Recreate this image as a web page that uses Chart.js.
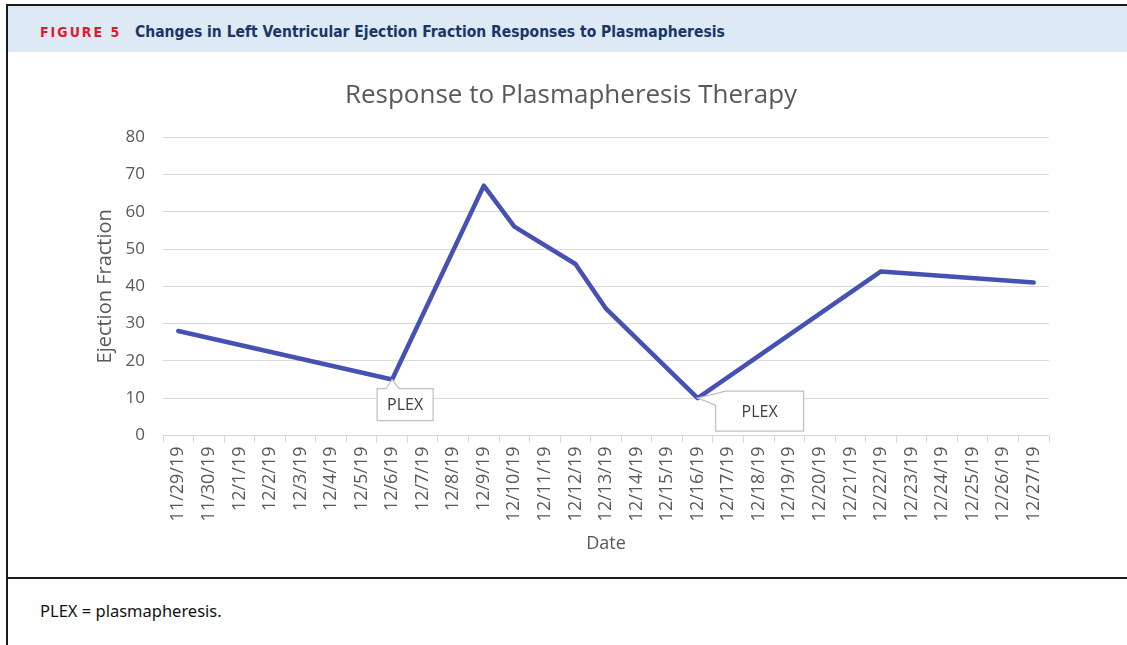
<!DOCTYPE html>
<html>
<head>
<meta charset="utf-8">
<script src="https://cdn.jsdelivr.net/npm/chart.js@4"></script>
<style>
  body { margin: 0; background: #fff; width: 1127px; height: 645px; overflow: hidden; position: relative; }
  .frame { position: absolute; left: 6px; top: 4px; width: 1130px; height: 650px; border-left: 2px solid #1a1a1a; border-top: 2px solid #1a1a1a; }
  .header { position: absolute; left: 8px; top: 6px; width: 1130px; height: 46px; background: #dde9f5; }
  .header span { position: absolute; font-family: "DejaVu Sans Condensed", "DejaVu Sans", sans-serif; font-weight: bold; white-space: nowrap; }
  .fig { left: 32px; top: 18px; color: #e2192c; letter-spacing: 2px; font-size: 14px; }
  .ttl { left: 127px; top: 17px; color: #1b3566; font-size: 15.5px; }
  .chartbox { position: absolute; left: 8px; top: 53px; width: 1119px; height: 524px; }
  .rule { position: absolute; left: 8px; top: 577px; width: 1130px; height: 2px; background: #1a1a1a; }
  .caption { position: absolute; left: 40px; top: 599px; font-family: "Noto Sans", sans-serif; font-size: 16.5px; color: #111; }
</style>
</head>
<body>
<div class="frame"></div>
<div class="header"><span class="fig">FIGURE 5</span><span class="ttl">Changes in Left Ventricular Ejection Fraction Responses to Plasmapheresis</span></div>
<div class="chartbox"><canvas id="efChart"></canvas></div>
<div class="rule"></div>
<div class="caption">PLEX = plasmapheresis.</div>
<script>
const dates = ['11/29/19', '11/30/19', '12/1/19', '12/2/19', '12/3/19', '12/4/19', '12/5/19',
  '12/6/19', '12/7/19', '12/8/19', '12/9/19', '12/10/19', '12/11/19', '12/12/19', '12/13/19',
  '12/14/19', '12/15/19', '12/16/19', '12/17/19', '12/18/19', '12/19/19', '12/20/19', '12/21/19',
  '12/22/19', '12/23/19', '12/24/19', '12/25/19', '12/26/19', '12/27/19'];
const ejection = [28, null, null, null, null, null, null,
  15, null, null, 67, 56, null, 46, 34,
  null, null, 10, null, null, null, null, null,
  44, null, null, null, null, 41];
const plexDates = ['12/6/19', '12/16/19'];
const plexText = 'PLEX';

const grey = '#595959';
const font = '"Open Sans", sans-serif';

// callout boxes pointing at the plasmapheresis points
const callouts = {
  id: 'callouts',
  afterDatasetsDraw(chart) {
    const c = chart.ctx;
    const xs = chart.scales.x, ys = chart.scales.y;
    plexDates.forEach((d, i) => {
      const idx = dates.indexOf(d);
      const px = xs.getPixelForValue(idx);
      const py = ys.getPixelForValue(ejection[idx]);
      c.save();
      c.beginPath();
      let l, t, w, h;
      if (i === 0) {
        l = px - 15; t = py + 9; w = 56; h = 32;
        c.moveTo(l, t);
        c.lineTo(px - 6, t);
        c.lineTo(px, py);
        c.lineTo(px + 7, t);
        c.lineTo(l + w, t);
        c.lineTo(l + w, t + h);
        c.lineTo(l, t + h);
        c.closePath();
      } else {
        l = px + 18; t = py - 7; w = 88; h = 40;
        c.moveTo(l + 10, t);
        c.lineTo(l + w, t);
        c.lineTo(l + w, t + h);
        c.lineTo(l, t + h);
        c.lineTo(l, t + 14);
        c.lineTo(px, py);
        c.closePath();
      }
      c.fillStyle = '#fff';
      c.fill();
      c.strokeStyle = '#bfbfbf';
      c.lineWidth = 1.2;
      c.stroke();
      c.fillStyle = '#404040';
      c.font = '16px ' + font;
      c.textAlign = 'center';
      c.textBaseline = 'middle';
      c.fillText(plexText, l + w / 2, t + h / 2 + 1);
      c.restore();
    });
  }
};

new Chart(document.getElementById('efChart'), {
  type: 'line',
  data: {
    labels: dates,
    datasets: [{
      label: 'Ejection Fraction',
      data: ejection,
      borderColor: '#4652b3',
      borderWidth: 4.5,
      pointRadius: 0,
      spanGaps: true,
      tension: 0,
      borderCapStyle: 'round',
      borderJoinStyle: 'round'
    }]
  },
  options: {
    responsive: true,
    maintainAspectRatio: false,
    animation: false,
    layout: { padding: { left: 85, right: 78, top: 0, bottom: 22 } },
    plugins: {
      legend: { display: false },
      tooltip: { enabled: false },
      title: {
        display: true,
        text: 'Response to Plasmapheresis Therapy',
        color: grey,
        font: { family: font, size: 26, weight: 'normal' },
        padding: { top: 27, bottom: 26 }
      }
    },
    scales: {
      x: {
        offset: true,
        grid: { display: true, offset: true, drawOnChartArea: false, drawTicks: true, tickLength: 7, color: '#d9d9d9' },
        border: { display: true, color: '#d9d9d9' },
        ticks: { color: grey, font: { family: font, size: 18 }, minRotation: 90, maxRotation: 90, autoSkip: false, padding: 4 },
        title: { display: true, text: 'Date', color: grey, font: { family: font, size: 18 }, padding: { top: 8, bottom: 0 } }
      },
      y: {
        min: 0,
        max: 80,
        afterFit(scale) { scale.width = 70; },
        grid: { color: '#d9d9d9', drawTicks: false },
        border: { display: false },
        ticks: { stepSize: 10, color: grey, font: { family: font, size: 17 }, padding: 18 },
        title: { display: true, text: 'Ejection Fraction', color: grey, font: { family: font, size: 20 }, padding: 0 }
      }
    }
  },
  plugins: [callouts]
});
</script>
</body>
</html>
